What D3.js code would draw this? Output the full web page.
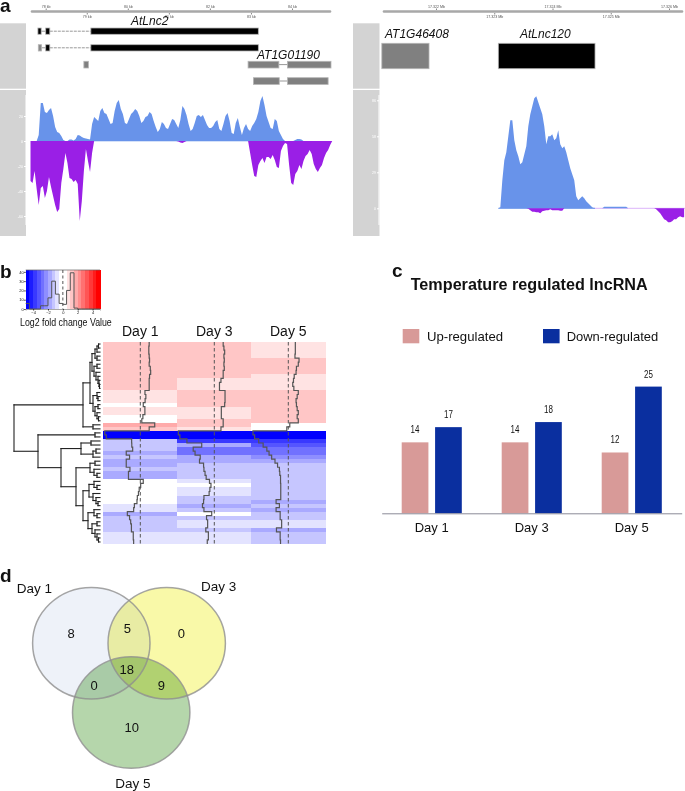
<!DOCTYPE html>
<html lang="en">
<head>
<meta charset="utf-8">
<title>Temperature regulated lncRNA</title>
<script src="https://d3js.org/d3.v7.min.js"></script>
<style>
  html, body { margin: 0; padding: 0; background: #fff; }
  svg { display: block; }
  text { font-family: "Liberation Sans", Arial, sans-serif; fill: #111; }
</style>
</head>
<body>
<div id="chart"></div>
<script>
// ---- panel a data, coverage in bins along the genome ----
var leftBinStart = 77.63, leftBinSize = 0.05;   // kb
var rightBinStart = 17323.07, rightBinSize = 0.0343;   // kb

var leftPlus = [0,0,0,0,6,38,38,29,28,31,33,25,14,9,8,5,1,0,0,1.5,1.5,0.5,2,6,5.5,4,3,2.5,2,1.5,
  17,24,22,20,30,33,28,27,22,17,18,30,38,41,32,27,18,17,22,27,29,32,30,25,18,20,24,25,29,27,
  20,14,9,12,19,17,13,12,17,22,21,17,13,21,35,32,26,17,10,12,18,25,26,24,26,21,16,13,13,15,
  19,21,12,10,17,25,28,20,8,7,18,23,14,6,13,17,12,10,15,18,22,29,40,45,36,25,19,13,12,22,
  20,10,6,2,0,0,0,0,0,1,2,2,1.5,0,0,0,0,0,0,0,0,0,0,0,0,0,0,0];
var leftMinus = [40,42,30,48,64,47,45,57,50,36,46,55,64,71,68,42,28,12,22,37,38,41,39,43,80,60,30,8,20,31,
  12,0,0,0,0,0,0,0,0,0,0,0,0,0,0,0,0,0,0,0,0,0,0,0,0,0,0,0,0,0,
  0,0,0,0,0,0,0,0,0,0,0,0,0.5,1.5,2,1,0,0,0,0,0,0,0,0,0,0,0,0,0,0,
  0,0,0,0,0,0,0,0,0,0,0,0,0,0,0,0,0,12,24,35,36,24,20,17,22,16,16,18,14,19,
  26,27,10,5,2,3,24,42,44,33,30,24,28,20,15,13,9,13,23,28,31,27,24,17,12,9,4,0];
var rightPlus = [0,1,28,48,56,72,88,88,68,58,52,44,46,54,62,82,94,102,110,112,106,100,94,82,64,72,72,74,68,70,
  78,64,60,62,56,48,40,34,28,12,8,10,12,10,7,5,3,1,0,0,0,0,0,1.5,1.5,1.5,1.5,1.5,1.5,1.5,
  1.5,1.5,1.5,1.5,1.5,0,0,0,0,0,0,0,0,0,0,0,0,0,0,0,0,0,0,0,0,0,0,0,0,0,0,0,0,0];
var rightMinus = [0,0,0,0,0,0,0,0,0,0,0,0,0,0,0,0.5,2,3.5,3.5,4,4,5,3,2.5,2,2,1,2,2,2,
  2,2.5,2.5,0,0,0,0,0,0,0,0,0,0,0,0,0,0,0,0,0,0,0,0,0,0,0,0,0,0,0,
  0,0,0,0,0,0,0,0,0,0,0,0,0,0,0,0,0,0,0,1,3,5,8,11,12,14,14,13,11,11,9,8,9,9];

// exons in kb, one row per transcript
var lncExons1 = [[77.81, 77.89], [78.0, 78.1], [79.1, 83.18]];
var lncExons2 = [[78.0, 78.1], [79.1, 83.18]];
var lncGrey2 = [[77.82, 77.9]];
var smallExon = [[78.93, 79.04]];
var at01190a = [[82.93, 83.68], [83.89, 84.95]];
var at01190b = [[83.06, 83.69], [83.89, 84.88]];
var rightGrey = [[17321.07, 17321.88]];
var rightBlack = [[17323.07, 17324.73]];

var leftTicks = [78, 79, 80, 81, 82, 83, 84];
var rightTicks = [17322, 17323, 17324, 17325, 17326];

// ---- panel b data, log2 fold change per row ----
var days = ["Day 1", "Day 3", "Day 5"];
var day1 = [1.2,1.15,1.15,1.2,1.25,1.2,1.35,1.4,1.25,1.2,1.2,1.2,0.63,0.75,0.65,0.4,0.62,0.62,0.35,0.2,1.95,1.2,
  -4.8,-4.6,-1.17,-1.15,-1.03,-1.9,-1.45,-1.9,-1.9,-1.4,-1.6,-1.6,0.4,0.05,-0.15,-0.25,-0.4,-0.45,-0.8,-0.9,-1.75,-1.45,-1.3,-1.2,-1.2,-0.95,-0.95,-0.9];
var day3 = [1.2,1.3,1.4,1.3,1.35,1.3,1.35,1.2,1.2,0.9,0.7,0.7,1.45,1.45,1.45,1.4,0.95,0.95,0.95,1.2,1.2,0.9,
  -4.86,-4.65,-3.7,-1.7,-2.85,-2.6,-1.9,-2.0,-1.45,-1.4,-1.25,-1.1,-0.65,-0.45,-0.6,-0.7,-1.4,-1.45,-1.6,-1.4,-0.35,-1.05,-0.9,-0.9,-1.15,-0.8,-0.8,-0.95];
var day5 = [0.95,0.95,0.95,0.9,1.45,1.35,1.1,1.05,0.8,0.7,0.6,0.75,1.35,1.2,1.05,1.1,1.2,1.35,1.2,1.35,0.2,-0.2,
  -4.77,-4.55,-4.0,-3.4,-2.9,-2.6,-2.25,-1.8,-1.45,-1.2,-1.15,-1.05,-1.05,-1.02,-1.02,-1.02,-1.02,-1.65,-1.2,-1.65,-1.1,-1.1,-0.9,-0.9,-1.6,-1.1,-1.1,-1.05];

// colour key histogram, counts per half unit bin from -5 to 5
var keyCounts = [6,0,0,0,3.5,3.5,12,30,16,6,5,20,39,1,0,0,0,0,0,0];

// row dendrogram, node = [height, child, child...], leaf = row number
var rowTree = [86,
  [17,
    [10,
      [8, [5, [3, [1.5, 0, 1], 2], [3, 3, 4]], [6, [3, 5, 6], [4, 7, [2, 8, [1, 9, [0.5, 10, 11]]]]]],
      [7, [3, 12, [2, 13, 14]], [5, [2, 15, 16], [3, 17, [1.5, 18, 19]]]]],
    [7, 20, 21]],
  [62,
    [5, 22, 23],
    [39,
      [19, [9, 24, 25], [7, [4, 26, 27], 28]],
      [24,
        [10, [5, 29, 30], [6, 31, [3, 32, 33]]],
        [17,
          [11, [6, 34, [3, 35, 36]], [7, 37, [4, 38, [2, 39, 40]]]],
          [12, [6, 41, [3, 42, 43]], [8, [3, 44, 45], [5, 46, [3, 47, [1.5, 48, 49]]]]]]]]]];

// ---- panel c data ----
var barDays = ["Day 1", "Day 3", "Day 5"];
var upRegulated = [14, 14, 12];
var downRegulated = [17, 18, 25];

// ---- panel d data ----
var vennSets = ["Day 1", "Day 3", "Day 5"];
var vennCounts = [8, 5, 0, 18, 0, 9, 10];

var svg = d3.select("#chart").append("svg").attr("width", 685).attr("height", 791);
svg.append("rect").attr("width", 685).attr("height", 791).attr("fill", "#fff");

function panelLetter(s, x, y) {
  svg.append("text").attr("x", x).attr("y", y).attr("font-size", 19).attr("font-weight", "bold").attr("fill", "#000").text(s);
}
panelLetter("a", 0, 12);
panelLetter("b", 0, 278);
panelLetter("c", 392, 277);
panelLetter("d", 0, 582);

// ---------- panel a ----------
var xLeft = d3.scaleLinear().domain([78, 84]).range([45.7, 292]);
var xRight = d3.scaleLinear().domain([17322, 17326]).range([436, 669]);
var yLeft = d3.scaleLinear().domain([-100, 60]).range([241, 81]);   // baseline at 141
var yRight = d3.scaleLinear().domain([-30, 115]).range([238.3, 93.3]);   // baseline at 208.3

function ruler(x, ticks, x0, x1, fmt) {
  svg.append("line").attr("x1", x0).attr("x2", x1).attr("y1", 11.5).attr("y2", 11.5)
    .attr("stroke", "#a8a8a8").attr("stroke-width", 2.6).attr("stroke-linecap", "round");
  var top = ticks.filter(function(d, i) { return i % 2 == 0; });
  var bottom = ticks.filter(function(d, i) { return i % 2 == 1; });
  [[top, d3.axisTop, 10], [bottom, d3.axisBottom, 13]].forEach(function(r) {
    var g = svg.append("g").attr("transform", "translate(0," + r[2] + ")")
      .call(r[1](x).tickValues(r[0]).tickSize(1.5).tickPadding(0.5).tickFormat(fmt));
    g.select(".domain").remove();
    g.selectAll("line").attr("stroke", "#888");
    g.selectAll("text").attr("font-size", 3.6).style("fill", "#555");
  });
}
ruler(xLeft, leftTicks, 32, 330, function(d) { return d + " kb"; });
ruler(xRight, rightTicks, 384, 682, function(d) { return (d / 1000).toFixed(3) + " Mb"; });

// grey track headers
[[0, 26], [353, 26.5]].forEach(function(p) {
  svg.append("rect").attr("x", p[0]).attr("y", 23.3).attr("width", p[1]).attr("height", 65.4).attr("fill", "#d3d3d3");
  svg.append("rect").attr("x", p[0]).attr("y", 90).attr("width", p[1]).attr("height", 146).attr("fill", "#d3d3d3");
});

function yTicks(y, vals, x, y0, y1) {
  var g = svg.append("g").attr("transform", "translate(" + x + ",0)")
    .call(d3.axisLeft(y).tickValues(vals).tickSize(2).tickPadding(1).tickFormat(function(d) { return Math.round(d * 0.8); }));
  g.select(".domain").attr("stroke", "#fff").attr("d", "M0," + y0 + "V" + y1);
  g.selectAll("line").attr("stroke", "#fff");
  g.selectAll("text").attr("font-size", 3.6).style("fill", "#fff");
}
yTicks(yLeft, [25, 0, -25, -50, -75], 26, 95, 225);
yTicks(yRight, [108, 72, 36, 0], 379, 95, 225);

function exons(x, list, y0, h, fill) {
  svg.append("g").selectAll("rect").data(list).join("rect")
    .attr("x", function(d) { return x(d[0]); })
    .attr("width", function(d) { return x(d[1]) - x(d[0]); })
    .attr("y", y0).attr("height", h)
    .attr("fill", fill).attr("stroke", "#b5b5b5").attr("stroke-width", 0.8);
}
function intron(x, a, b, y, dash) {
  svg.append("line").attr("x1", x(a)).attr("x2", x(b)).attr("y1", y).attr("y2", y)
    .attr("stroke", "#999").attr("stroke-width", 1).attr("stroke-dasharray", dash);
}
intron(xLeft, 77.89, 78, 31.2, null);
intron(xLeft, 78.1, 79.1, 31.2, "3,1");
intron(xLeft, 77.9, 78, 47.8, null);
intron(xLeft, 78.1, 79.1, 47.8, "3,1");
intron(xLeft, 83.68, 83.89, 64.6, null);
intron(xLeft, 83.69, 83.89, 81, null);
exons(xLeft, lncExons1, 28, 6.3, "#000");
exons(xLeft, lncGrey2, 44.7, 6.3, "#8a8a8a");
exons(xLeft, lncExons2, 44.7, 6.3, "#000");
exons(xLeft, smallExon, 61.3, 6.7, "#808080");
exons(xLeft, at01190a, 61.3, 6.7, "#808080");
exons(xLeft, at01190b, 77.7, 6.7, "#808080");
exons(xRight, rightGrey, 43.3, 25.4, "#808080");
exons(xRight, rightBlack, 43.3, 25.4, "#000");

function geneName(s, x, y) {
  svg.append("text").attr("x", x).attr("y", y).attr("font-size", 12).attr("font-style", "italic").attr("fill", "#000").text(s);
}
geneName("AtLnc2", 131, 25);
geneName("AT1G01190", 257, 59);
geneName("AT1G46408", 385, 38);
geneName("AtLnc120", 520, 38);

function coverage(vals, x, y, start, size, sign, colour) {
  var area = d3.area()
    .x(function(d, i) { return x(start + i * size); })
    .y0(y(0))
    .y1(function(d) { return y(sign * d); });
  svg.append("path").datum(vals).attr("d", area).attr("fill", colour);
}
// thin baselines between the peaks
svg.append("line").attr("x1", xLeft(79.1)).attr("x2", xLeft(82.95)).attr("y1", yLeft(0)).attr("y2", yLeft(0)).attr("stroke", "#a9c3f3").attr("stroke-width", 1);
svg.append("line").attr("x1", xRight(17324.7)).attr("x2", 685).attr("y1", yRight(0)).attr("y2", yRight(0)).attr("stroke", "#dcb4fb").attr("stroke-width", 1);
svg.append("line").attr("x1", xRight(17323.07)).attr("x2", xRight(17324.73)).attr("y1", yRight(0)).attr("y2", yRight(0)).attr("stroke", "#6b96ea").attr("stroke-width", 1);

coverage(leftPlus, xLeft, yLeft, leftBinStart, leftBinSize, 1, "#6893ea");
coverage(leftMinus, xLeft, yLeft, leftBinStart, leftBinSize, -1, "#9a1fe6");
coverage(rightPlus, xRight, yRight, rightBinStart, rightBinSize, 1, "#6893ea");
coverage(rightMinus, xRight, yRight, rightBinStart, rightBinSize, -1, "#9a1fe6");

// ---------- panel b ----------
// colour key, 20 bins from blue through white to red
var keyColors = [];
d3.range(10).forEach(function(j) { keyColors.push(d3.interpolateRgb("#0000ff", "#ffffff")(j / 9)); });
d3.range(10).forEach(function(j) { keyColors.push(d3.interpolateRgb("#ffffff", "#ff0000")(j / 9)); });
var heat = d3.scaleQuantize().domain([-5, 5]).range(keyColors);

var xKey = d3.scaleLinear().domain([-5, 5]).range([25.7, 100]);
var yKey = d3.scaleLinear().domain([0, 42]).range([309, 270]);

svg.append("g").attr("shape-rendering", "crispEdges").selectAll("rect").data(keyColors).join("rect")
  .attr("x", function(d, i) { return xKey(-5 + i * 0.5); })
  .attr("width", xKey(0.5) - xKey(0) + 0.5)
  .attr("y", yKey(42)).attr("height", yKey(0) - yKey(42))
  .attr("fill", function(d) { return d; });
svg.append("line").attr("x1", xKey(-5)).attr("x2", xKey(5)).attr("y1", yKey(42)).attr("y2", yKey(42)).attr("stroke", "#666").attr("stroke-width", 0.7);

var keyLine = [];
keyCounts.forEach(function(c, i) {
  keyLine.push([-5 + i * 0.5, c]);
  keyLine.push([-5 + (i + 1) * 0.5, c]);
});
svg.append("path").datum(keyLine)
  .attr("d", d3.line().x(function(d) { return xKey(d[0]); }).y(function(d) { return yKey(d[1]); }))
  .attr("fill", "none").attr("stroke", "#555").attr("stroke-width", 1);
svg.append("line").attr("x1", xKey(0)).attr("x2", xKey(0)).attr("y1", yKey(42)).attr("y2", yKey(0))
  .attr("stroke", "#555").attr("stroke-width", 1).attr("stroke-dasharray", "3,2.5");

var keyXAxis = svg.append("g").attr("transform", "translate(0,309)")
  .call(d3.axisBottom(xKey).tickValues([-4, -2, 0, 2, 4]).tickSize(1.5).tickPadding(0.5));
keyXAxis.select(".domain").attr("stroke", "#555").attr("stroke-width", 0.5);
keyXAxis.selectAll("line").attr("stroke", "#333");
keyXAxis.selectAll("text").attr("font-size", 4);
var keyYAxis = svg.append("g").attr("transform", "translate(25.7,0)")
  .call(d3.axisLeft(yKey).tickValues([0, 10, 20, 30, 40]).tickSize(1.5).tickPadding(0.5));
keyYAxis.select(".domain").remove();
keyYAxis.selectAll("line").attr("stroke", "#333");
keyYAxis.selectAll("text").attr("font-size", 4);

// squeezed by hand, the original label is narrower than the plain font
svg.append("text").attr("transform", "translate(20,325.5) scale(0.8,1)").attr("font-size", 11)
  .text("Log2 fold change Value");

// heat map
var dayValues = [day1, day3, day5];
var rows = d3.range(day1.length);
var xDay = d3.scaleBand().domain(days).range([103.3, 325.3]);
var yRow = d3.scaleBand().domain(rows).range([342, 544]);

days.forEach(function(day, c) {
  var vals = dayValues[c];
  var g = svg.append("g");
  g.append("g").attr("shape-rendering", "crispEdges").selectAll("rect").data(vals).join("rect")
    .attr("x", xDay(day))
    .attr("y", function(d, i) { return yRow(i); })
    .attr("width", xDay.bandwidth() + 0.3)
    .attr("height", yRow.bandwidth() + 0.3)
    .attr("fill", function(d) { return heat(d); });

  var centre = xDay(day) + xDay.bandwidth() / 2;
  var xTrace = d3.scaleLinear().domain([-5, 5]).range([xDay(day), xDay(day) + xDay.bandwidth()]);

  g.append("line").attr("x1", centre).attr("x2", centre).attr("y1", 342).attr("y2", 544)
    .attr("stroke", "#555").attr("stroke-width", 1).attr("stroke-dasharray", "3.5,2.5");

  var pts = [];
  vals.forEach(function(v, i) {
    pts.push([v, yRow(i)]);
    pts.push([v, yRow(i) + yRow.bandwidth()]);
  });
  g.append("path").datum(pts)
    .attr("d", d3.line().x(function(d) { return xTrace(d[0]); }).y(function(d) { return d[1]; }))
    .attr("fill", "none").attr("stroke", "#555").attr("stroke-width", 1.2);

  svg.append("text").attr("x", centre).attr("y", 335.5).attr("text-anchor", "middle")
    .attr("font-size", 14).attr("fill", "#000").text(day);
});

// dendrogram
var xTree = d3.scaleLinear().domain([0, 86]).range([100, 14]);
var treeSegs = [];
function walk(n) {
  if (typeof n == "number") return { y: yRow(n) + yRow.bandwidth() / 2, h: 0 };
  var kids = n.slice(1).map(walk);
  var ys = kids.map(function(k) { return k.y; });
  kids.forEach(function(k) {
    treeSegs.push([[k.h, k.y], [n[0], k.y]]);
  });
  treeSegs.push([[n[0], d3.min(ys)], [n[0], d3.max(ys)]]);
  return { y: (d3.min(ys) + d3.max(ys)) / 2, h: n[0] };
}
walk(rowTree);
svg.append("g").selectAll("path").data(treeSegs).join("path")
  .attr("d", d3.line().x(function(d) { return xTree(d[0]); }).y(function(d) { return d[1]; }))
  .attr("fill", "none").attr("stroke", "#222").attr("stroke-width", 1.1).attr("stroke-linecap", "square");

// ---------- panel c ----------
svg.append("text").attr("x", 410.7).attr("y", 290).attr("font-size", 16).attr("font-weight", "bold")
  .attr("textLength", 237).attr("lengthAdjust", "spacingAndGlyphs").attr("fill", "#000").text("Temperature regulated lncRNA");

var upColour = "#d89a98", downColour = "#0a2f9f";
[[402.7, upColour, "Up-regulated", 427, 76], [543, downColour, "Down-regulated", 566.7, 91.5]].forEach(function(l) {
  svg.append("rect").attr("x", l[0]).attr("y", 329).attr("width", 16.6).attr("height", 14.3).attr("fill", l[1]);
  svg.append("text").attr("x", l[3]).attr("y", 340.5).attr("font-size", 13).attr("textLength", l[4])
    .attr("lengthAdjust", "spacingAndGlyphs").attr("fill", "#222").text(l[2]);
});

var xBar = d3.scaleBand().domain(barDays).range([381.7, 681.7]);
var xGroup = d3.scaleBand().domain([0, 1]).range([20, 80.1]).paddingInner(0.2);
var yBar = d3.scaleLinear().domain([0, 25]).range([513.3, 386.6]);

[upRegulated, downRegulated].forEach(function(vals, s) {
  var g = svg.append("g");
  g.selectAll("rect").data(vals).join("rect")
    .attr("x", function(d, i) { return xBar(barDays[i]) + xGroup(s); })
    .attr("width", xGroup.bandwidth())
    .attr("y", function(d) { return yBar(d); })
    .attr("height", function(d) { return yBar(0) - yBar(d); })
    .attr("fill", s == 0 ? upColour : downColour);
  g.selectAll("text").data(vals).join("text")
    .attr("transform", function(d, i) {
      var cx = xBar(barDays[i]) + xGroup(s) + xGroup.bandwidth() / 2;
      return "translate(" + cx + "," + (yBar(d) - 9) + ") scale(0.8,1)";
    })
    .attr("text-anchor", "middle")
    .attr("font-size", 10)
    .text(function(d) { return d; });
});

var barAxis = svg.append("g").attr("transform", "translate(0,513.3)")
  .call(d3.axisBottom(xBar).tickSize(0).tickPadding(9));
barAxis.select(".domain").attr("stroke", "#8b8b98").attr("stroke-width", 1);
barAxis.selectAll("text").attr("font-size", 13).style("font-family", '"Liberation Sans", Arial, sans-serif').style("fill", "#111");

// ---------- panel d ----------
var vennX = d3.scaleLinear().domain([0, 100]).range([0, 100]);
var vennY = d3.scaleLinear().domain([0, 100]).range([565, 665]);
var vennFill = ["#eef2f9", "#f9f9a8", "#b5d6ab"];
var vennLayout = [[91.3, 78.2], [166.7, 78.2], [131.2, 147.5]];
var countLayout = [[71, 68.3], [127.3, 63.3], [181.3, 68.3], [126.7, 104], [94, 120.7], [161.3, 120.7], [131.7, 162.3]];

var vennG = svg.append("g").style("isolation", "isolate");
vennG.selectAll("ellipse").data(vennSets).join("ellipse")
  .attr("cx", function(d, i) { return vennX(vennLayout[i][0]); })
  .attr("cy", function(d, i) { return vennY(vennLayout[i][1]); })
  .attr("rx", 58.7).attr("ry", 55.8)
  .attr("fill", function(d, i) { return vennFill[i]; })
  .style("mix-blend-mode", "multiply");
svg.append("g").selectAll("ellipse").data(vennSets).join("ellipse")
  .attr("cx", function(d, i) { return vennX(vennLayout[i][0]); })
  .attr("cy", function(d, i) { return vennY(vennLayout[i][1]); })
  .attr("rx", 58.7).attr("ry", 55.8)
  .attr("fill", "none").attr("stroke", "#8f8f8f").attr("stroke-opacity", 0.8).attr("stroke-width", 1.5);

svg.append("g").selectAll("text").data(vennCounts).join("text")
  .attr("x", function(d, i) { return vennX(countLayout[i][0]); })
  .attr("y", function(d, i) { return vennY(countLayout[i][1]); })
  .attr("dy", "0.36em").attr("text-anchor", "middle").attr("font-size", 13).attr("fill", "#000")
  .text(function(d) { return d; });

var vennLabelPos = [[34.3, 593], [218.7, 591], [133, 787.7]];
svg.append("g").selectAll("text").data(vennSets).join("text")
  .attr("x", function(d, i) { return vennLabelPos[i][0]; })
  .attr("y", function(d, i) { return vennLabelPos[i][1]; })
  .attr("text-anchor", "middle").attr("font-size", 13.5).attr("fill", "#111")
  .text(function(d) { return d; });
</script>
</body>
</html>
